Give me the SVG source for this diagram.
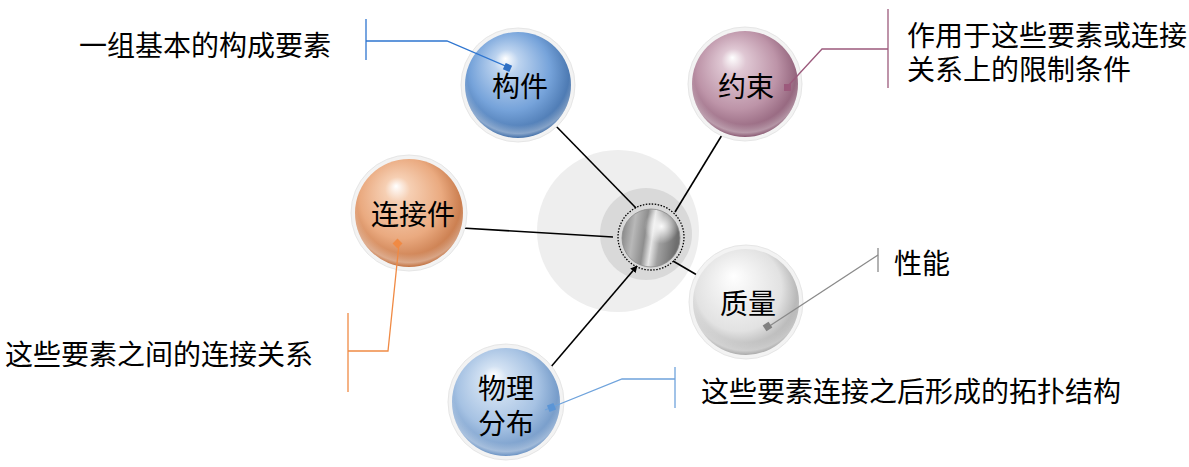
<svg xmlns="http://www.w3.org/2000/svg" width="1189" height="467" viewBox="0 0 1189 467">
<style>
text{font-family:"Noto Sans CJK SC","Noto Sans",sans-serif;font-size:28px;fill:#000;dominant-baseline:central}
.lbl{text-anchor:middle}
.conn{stroke:#000;stroke-width:1.6;fill:none}
.co{fill:none;stroke-width:1.3}
.halo{fill:#f3f3f3;stroke:#e6e6e6;stroke-width:1}
.shine{fill:url(#shine)}
</style>
<defs>
<radialGradient id="gBlue" cx="45%" cy="42%" r="58%" fx="38%" fy="25%">
<stop offset="0" stop-color="#ffffff"/><stop offset="0.2" stop-color="#bcd3ef"/><stop offset="0.65" stop-color="#76a3da"/><stop offset="1" stop-color="#426fa8"/></radialGradient>
<radialGradient id="gMauve" cx="45%" cy="42%" r="58%" fx="38%" fy="25%">
<stop offset="0" stop-color="#ffffff"/><stop offset="0.2" stop-color="#dfc7d3"/><stop offset="0.65" stop-color="#bd94a8"/><stop offset="1" stop-color="#8a5a73"/></radialGradient>
<radialGradient id="gOrange" cx="45%" cy="42%" r="58%" fx="38%" fy="25%">
<stop offset="0" stop-color="#ffffff"/><stop offset="0.2" stop-color="#f6cfb3"/><stop offset="0.65" stop-color="#eaaa80"/><stop offset="1" stop-color="#c27242"/></radialGradient>
<radialGradient id="gGrey" cx="45%" cy="42%" r="58%" fx="38%" fy="25%">
<stop offset="0" stop-color="#ffffff"/><stop offset="0.3" stop-color="#f2f2f2"/><stop offset="0.7" stop-color="#e2e2e2"/><stop offset="1" stop-color="#aaaaaa"/></radialGradient>
<radialGradient id="gLBlue" cx="45%" cy="42%" r="58%" fx="38%" fy="25%">
<stop offset="0" stop-color="#ffffff"/><stop offset="0.2" stop-color="#d3e2f3"/><stop offset="0.65" stop-color="#a6c2e3"/><stop offset="1" stop-color="#6a92c3"/></radialGradient>
<radialGradient id="shine" cx="50%" cy="40%" r="60%">
<stop offset="0.8" stop-color="#ffffff" stop-opacity="0"/><stop offset="0.93" stop-color="#ffffff" stop-opacity="0.35"/><stop offset="1" stop-color="#ffffff" stop-opacity="0"/></radialGradient>
<linearGradient id="gMetal" x1="0" y1="0" x2="1" y2="0.15">
<stop offset="0" stop-color="#7a7a7a"/><stop offset="0.25" stop-color="#b8b8b8"/><stop offset="0.45" stop-color="#8e8e8e"/><stop offset="0.58" stop-color="#e6e6e6"/><stop offset="0.72" stop-color="#a0a0a0"/><stop offset="1" stop-color="#6e6e6e"/></linearGradient>
<radialGradient id="gMetalHi" cx="68%" cy="30%" r="30%">
<stop offset="0" stop-color="#ffffff" stop-opacity="0.95"/><stop offset="1" stop-color="#ffffff" stop-opacity="0"/></radialGradient>
<marker id="arr" viewBox="0 0 10 10" refX="9" refY="5" markerWidth="7" markerHeight="7" orient="auto" markerUnits="userSpaceOnUse">
<path d="M0,0 L10,5 L0,10 z" fill="#000"/></marker>
</defs>

<g id="hub">
<circle cx="618" cy="231" r="81" fill="#eeeeee"/>
<circle cx="646" cy="234" r="46" fill="#d9d9d9"/>
</g>

<g id="connectors">
<line class="conn" x1="553" y1="123" x2="636" y2="208"/>
<line class="conn" x1="722" y1="135" x2="675" y2="212"/>
<line class="conn" x1="462" y1="228" x2="613" y2="237"/>
<line class="conn" x1="673" y1="261" x2="697" y2="275"/>
<line class="conn" x1="550" y1="368" x2="637" y2="266" marker-end="url(#arr)"/>
</g>

<g id="core">
<circle cx="651" cy="237" r="33" fill="none" stroke="#000" stroke-width="1.3" stroke-dasharray="1.5 1.5"/>
<circle cx="651" cy="238" r="29" fill="url(#gMetal)"/>
<circle cx="651" cy="238" r="29" fill="url(#gMetalHi)"/>
<circle cx="651" cy="238" r="29" fill="none" stroke="#8a8a8a" stroke-width="0.8"/>
</g>

<g id="node-goujian">
<circle class="halo" cx="518" cy="85" r="57"/>
<circle cx="518" cy="85" r="53" fill="url(#gBlue)"/>
<circle class="shine" cx="518" cy="85" r="53"/>
<text class="lbl" x="520" y="85">构件</text>
</g>

<g id="node-yueshu">
<circle class="halo" cx="745" cy="84" r="57"/>
<circle cx="745" cy="84" r="53" fill="url(#gMauve)"/>
<circle class="shine" cx="745" cy="84" r="53"/>
<text class="lbl" x="746" y="85">约束</text>
</g>

<g id="node-lianjiejian">
<circle class="halo" cx="409" cy="213" r="58"/>
<circle cx="409" cy="213" r="54" fill="url(#gOrange)"/>
<circle class="shine" cx="409" cy="213" r="54"/>
<text class="lbl" x="413" y="213">连接件</text>
</g>

<g id="node-zhiliang">
<circle class="halo" cx="746" cy="302" r="57"/>
<circle cx="746" cy="302" r="53" fill="url(#gGrey)"/>
<circle class="shine" cx="746" cy="302" r="53"/>
<text class="lbl" x="748" y="302">质量</text>
</g>

<g id="node-wulifenbu">
<circle class="halo" cx="506" cy="402" r="58"/>
<circle cx="506" cy="402" r="54" fill="url(#gLBlue)"/>
<circle class="shine" cx="506" cy="402" r="54"/>
<text class="lbl" x="506" y="387">物理</text>
<text class="lbl" x="506" y="422">分布</text>
</g>

<g id="callout-goujian">
<line class="co" stroke="#2e75d0" x1="366" y1="19" x2="366" y2="60"/>
<polyline class="co" stroke="#2e75d0" points="366,41 447,41 510,68"/>
<rect x="504" y="64" width="7" height="7" fill="#2e6fc4" transform="rotate(24 507.5 67.5)"/>
<text x="79" y="44">一组基本的构成要素</text>
</g>

<g id="callout-yueshu">
<line class="co" stroke="#9c5a7c" x1="888" y1="9" x2="888" y2="88"/>
<polyline class="co" stroke="#9c5a7c" points="888,49 822,49 787,87"/>
<rect x="784" y="84" width="7" height="7" fill="#9c5a7c"/>
<text x="907" y="34">作用于这些要素或连接</text>
<text x="907" y="68">关系上的限制条件</text>
</g>

<g id="callout-lianjiejian">
<line class="co" stroke="#f08a44" x1="348" y1="313" x2="348" y2="392"/>
<polyline class="co" stroke="#f08a44" points="348,351 388,351 399,244"/>
<rect x="394" y="240" width="7" height="7" fill="#f08a44" transform="rotate(45 397.5 243.5)"/>
<text x="5" y="353">这些要素之间的连接关系</text>
</g>

<g id="callout-zhiliang">
<line class="co" stroke="#8a8a8a" x1="878" y1="248" x2="878" y2="272"/>
<line class="co" stroke="#8a8a8a" x1="878" y1="255" x2="768" y2="327"/>
<rect x="764" y="323" width="7" height="7" fill="#808080" transform="rotate(-33 767.5 326.5)"/>
<text x="894" y="262">性能</text>
</g>

<g id="callout-wulifenbu">
<line class="co" stroke="#6fa3dc" x1="675" y1="367" x2="675" y2="408"/>
<polyline class="co" stroke="#6fa3dc" points="675,379 622,379 545,410"/>
<rect x="548" y="404" width="7" height="7" fill="#5b95d6" transform="rotate(-22 551.5 407.5)"/>
<text x="701" y="390">这些要素连接之后形成的拓扑结构</text>
</g>
</svg>
